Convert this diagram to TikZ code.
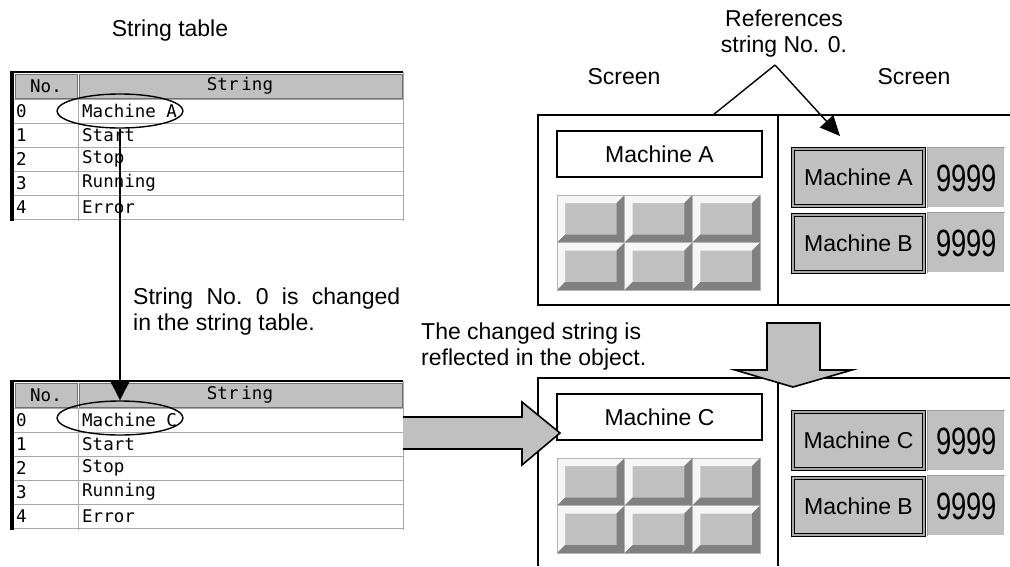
\documentclass[tikz,border=0pt]{standalone}
\usepackage{fontspec}
\usepackage{graphicx}
\setmainfont{Liberation Sans}
\newfontfamily\tabfont{DejaVu Sans Mono}
\usetikzlibrary{arrows.meta,shapes.geometric}
\definecolor{btnface}{HTML}{C0C0C0}
\definecolor{btnlight}{HTML}{F6F6F6}
\definecolor{btndark}{HTML}{808080}
\definecolor{btnline}{HTML}{B4B4B4}
\definecolor{hdrline}{HTML}{707070}
\definecolor{rowline}{HTML}{A8A8A8}
\newcommand\ninesfont{\scalebox{0.72}[1]{\fontsize{38}{38}\selectfont 9999}}
\newcommand\mybev[2]{%
 \fill[btnface] (#1,#2) rectangle ++(67.67,47.5);
 \fill[btnlight] (#1,#2) -- ++(67.67,0) -- ++(-8,8) -- ++(-51.67,0) -- ++(0,31.5) -- ++(-8,8) -- cycle;
 \fill[btndark] (#1+67.67,#2+47.5) -- ++(-67.67,0) -- ++(8,-8) -- ++(51.67,0) -- ++(0,-31.5) -- ++(8,-8) -- cycle;
 \draw[btnline, line width=0.8pt] (#1,#2) rectangle ++(67.67,47.5);}
\newcommand\strtable[3]{% #1 top y, #2 string of row 0, #3 name suffix
 \begin{scope}[shift={(0,#1)}]
  \draw[hdrline, line width=1pt, fill=btnface] (15,3) rectangle (77,27);
  \draw[hdrline, line width=1pt, fill=btnface] (79,3) rectangle (402,27);
  \draw[black, line width=2.2pt] (10,1) -- (403,1);
  \fill[black] (10,0) rectangle (13.5,150);
  \foreach \k in {0,...,5} \draw[rowline, line width=1pt] (14,28+24*\k) -- (403,28+24*\k);
  \draw[rowline, line width=1pt] (78,28) -- (78,150);
  \draw[rowline, line width=1pt] (403,1) -- (403,150);
  \node[tabtxt] (no#3) at (46,15) {No.};
  \node[tabtxt] (st#3) at (240,15) {Str\,ing};
  \node[tabtxt, anchor=west] (n0#3) at (16,40) {0};
  \node[tabtxt, anchor=west] (n1#3) at (16,64) {1};
  \node[tabtxt, anchor=west] (n2#3) at (16,88) {2};
  \node[tabtxt, anchor=west] (n3#3) at (16,112) {3};
  \node[tabtxt, anchor=west] (n4#3) at (16,136) {4};
  \node[tabtxt, anchor=west] (s0#3) at (82,40) {#2};
  \node[tabtxt, anchor=west] (s1#3) at (82,64) {Start};
  \node[tabtxt, anchor=west] (s2#3) at (82,88) {Stop};
  \node[tabtxt, anchor=west] (s3#3) at (82,112) {Running};
  \node[tabtxt, anchor=west] (s4#3) at (82,136) {Error};
 \end{scope}}
\newcommand\screenpair[2]{% #1 y offset, #2 letter
 \begin{scope}[shift={(0,#1)}]
  \node[scrbox] (box#2) at (659.5,154) {Machine #2};
  \foreach \i in {0,1,2}{\foreach \j in {0,1}{\mybev{557+67.67*\i}{195+47.5*\j}}}
  \node[mbtn] (btn#2) at (858.5,177.5) {Machine #2};
  \node[mbtn] (btnB#2) at (858.5,243.5) {Machine B};
  \node[disp] (dA#2) at (966.5,178) {\ninesfont};
  \node[disp] (dB#2) at (966.5,243) {\ninesfont};
  \foreach \d in {dA#2,dB#2}{
   \draw[gray!75, line width=1pt] (\d.south west) -- (\d.north west) -- (\d.north east);
   \draw[white, line width=3pt] (\d.north east) -- (\d.south east) -- (\d.south west);}
 \end{scope}}
\begin{document}
\begin{tikzpicture}[x=1pt,y=-1pt,
 lbl/.style={font=\fontsize{23}{26}\selectfont, inner sep=0pt},
 tabtxt/.style={font=\tabfont\fontsize{17.5}{18}\selectfont, inner sep=0pt},
 scrtxt/.style={font=\fontsize{23}{24}\selectfont},
 scrbox/.style={draw=black, line width=2pt, fill=white, minimum width=205pt, minimum height=46pt, inner sep=0pt, scrtxt},
 mbtn/.style={draw=black, line width=1.3pt, double=gray!70, double distance=1.6pt, fill=btnface, minimum width=131pt, minimum height=57pt, inner sep=0pt, scrtxt},
 disp/.style={fill=btnface, minimum width=77pt, minimum height=60pt, inner sep=0pt},
 frame/.style={draw=black, line width=1.6pt},
 thinarr/.style={line width=1.4pt, -{Triangle[length=20pt,width=20pt]}},
 bigarr/.style={fill=btnface, draw=black, line width=1.6pt, line join=miter},
 circ/.style={draw=black, line width=1.4pt, ellipse, minimum width=126pt, minimum height=34pt, inner sep=0pt}]
\useasboundingbox (0,0) rectangle (1010,566);
% labels
\node[lbl] (title) at (170,31) {String table};
\node[lbl] (scrL) at (624,77) {Screen};
\node[lbl] (scrR) at (914,77) {Screen};
\node[lbl, align=center] (refs) at (784,34) {References\\string No. 0.};
\node[lbl, align=left, anchor=north west] (chg) at (133,288)
 {\hbox to 267pt{String\hfill No.\hfill 0\hfill is\hfill changed}\\in the string table.};
\node[lbl, align=left, anchor=north west] (refl) at (421,323)
 {The changed string is\\reflected in the object.};
% screen frames
\draw[frame] (1010,115) -- (538,115) -- (538,305) -- (1010,305);
\draw[frame] (778,115) -- (778,305);
\draw[frame] (538,566) -- (538,378) -- (1010,378);
\draw[frame] (778,378) -- (778,566);
\screenpair{0}{A}
\screenpair{263}{C}
% callout
\coordinate (apex) at (775,65);
\coordinate (leg) at (713,115);
\coordinate (tipp) at (840,136);
\draw[line width=1.4pt] (apex) -- (leg);
\draw[line width=1.4pt, -{Triangle[length=20pt,width=18pt]}] (apex) -- (tipp);
% tables
\strtable{71}{Machine A}{T}
\strtable{380}{Machine C}{B}
\node[circ] (e1) at (120,111) {};
\node[circ] (e2) at (120,418) {};
\draw[thinarr] (e1.south) -- (e2.north);
% big arrows
\filldraw[bigarr] (767,323) -- (820,323) -- (820,370) -- (852,370) -- (793,387) -- (735,370) -- (767,370) -- cycle;
\fill[btnface] (403,417) -- (522,417) -- (522,402) -- (560,433) -- (522,465) -- (522,449) -- (403,449) -- cycle;
\draw[bigarr, fill=none] (403,417) -- (522,417) -- (522,402) -- (560,433) -- (522,465) -- (522,449) -- (403,449);
\end{tikzpicture}
\end{document}
